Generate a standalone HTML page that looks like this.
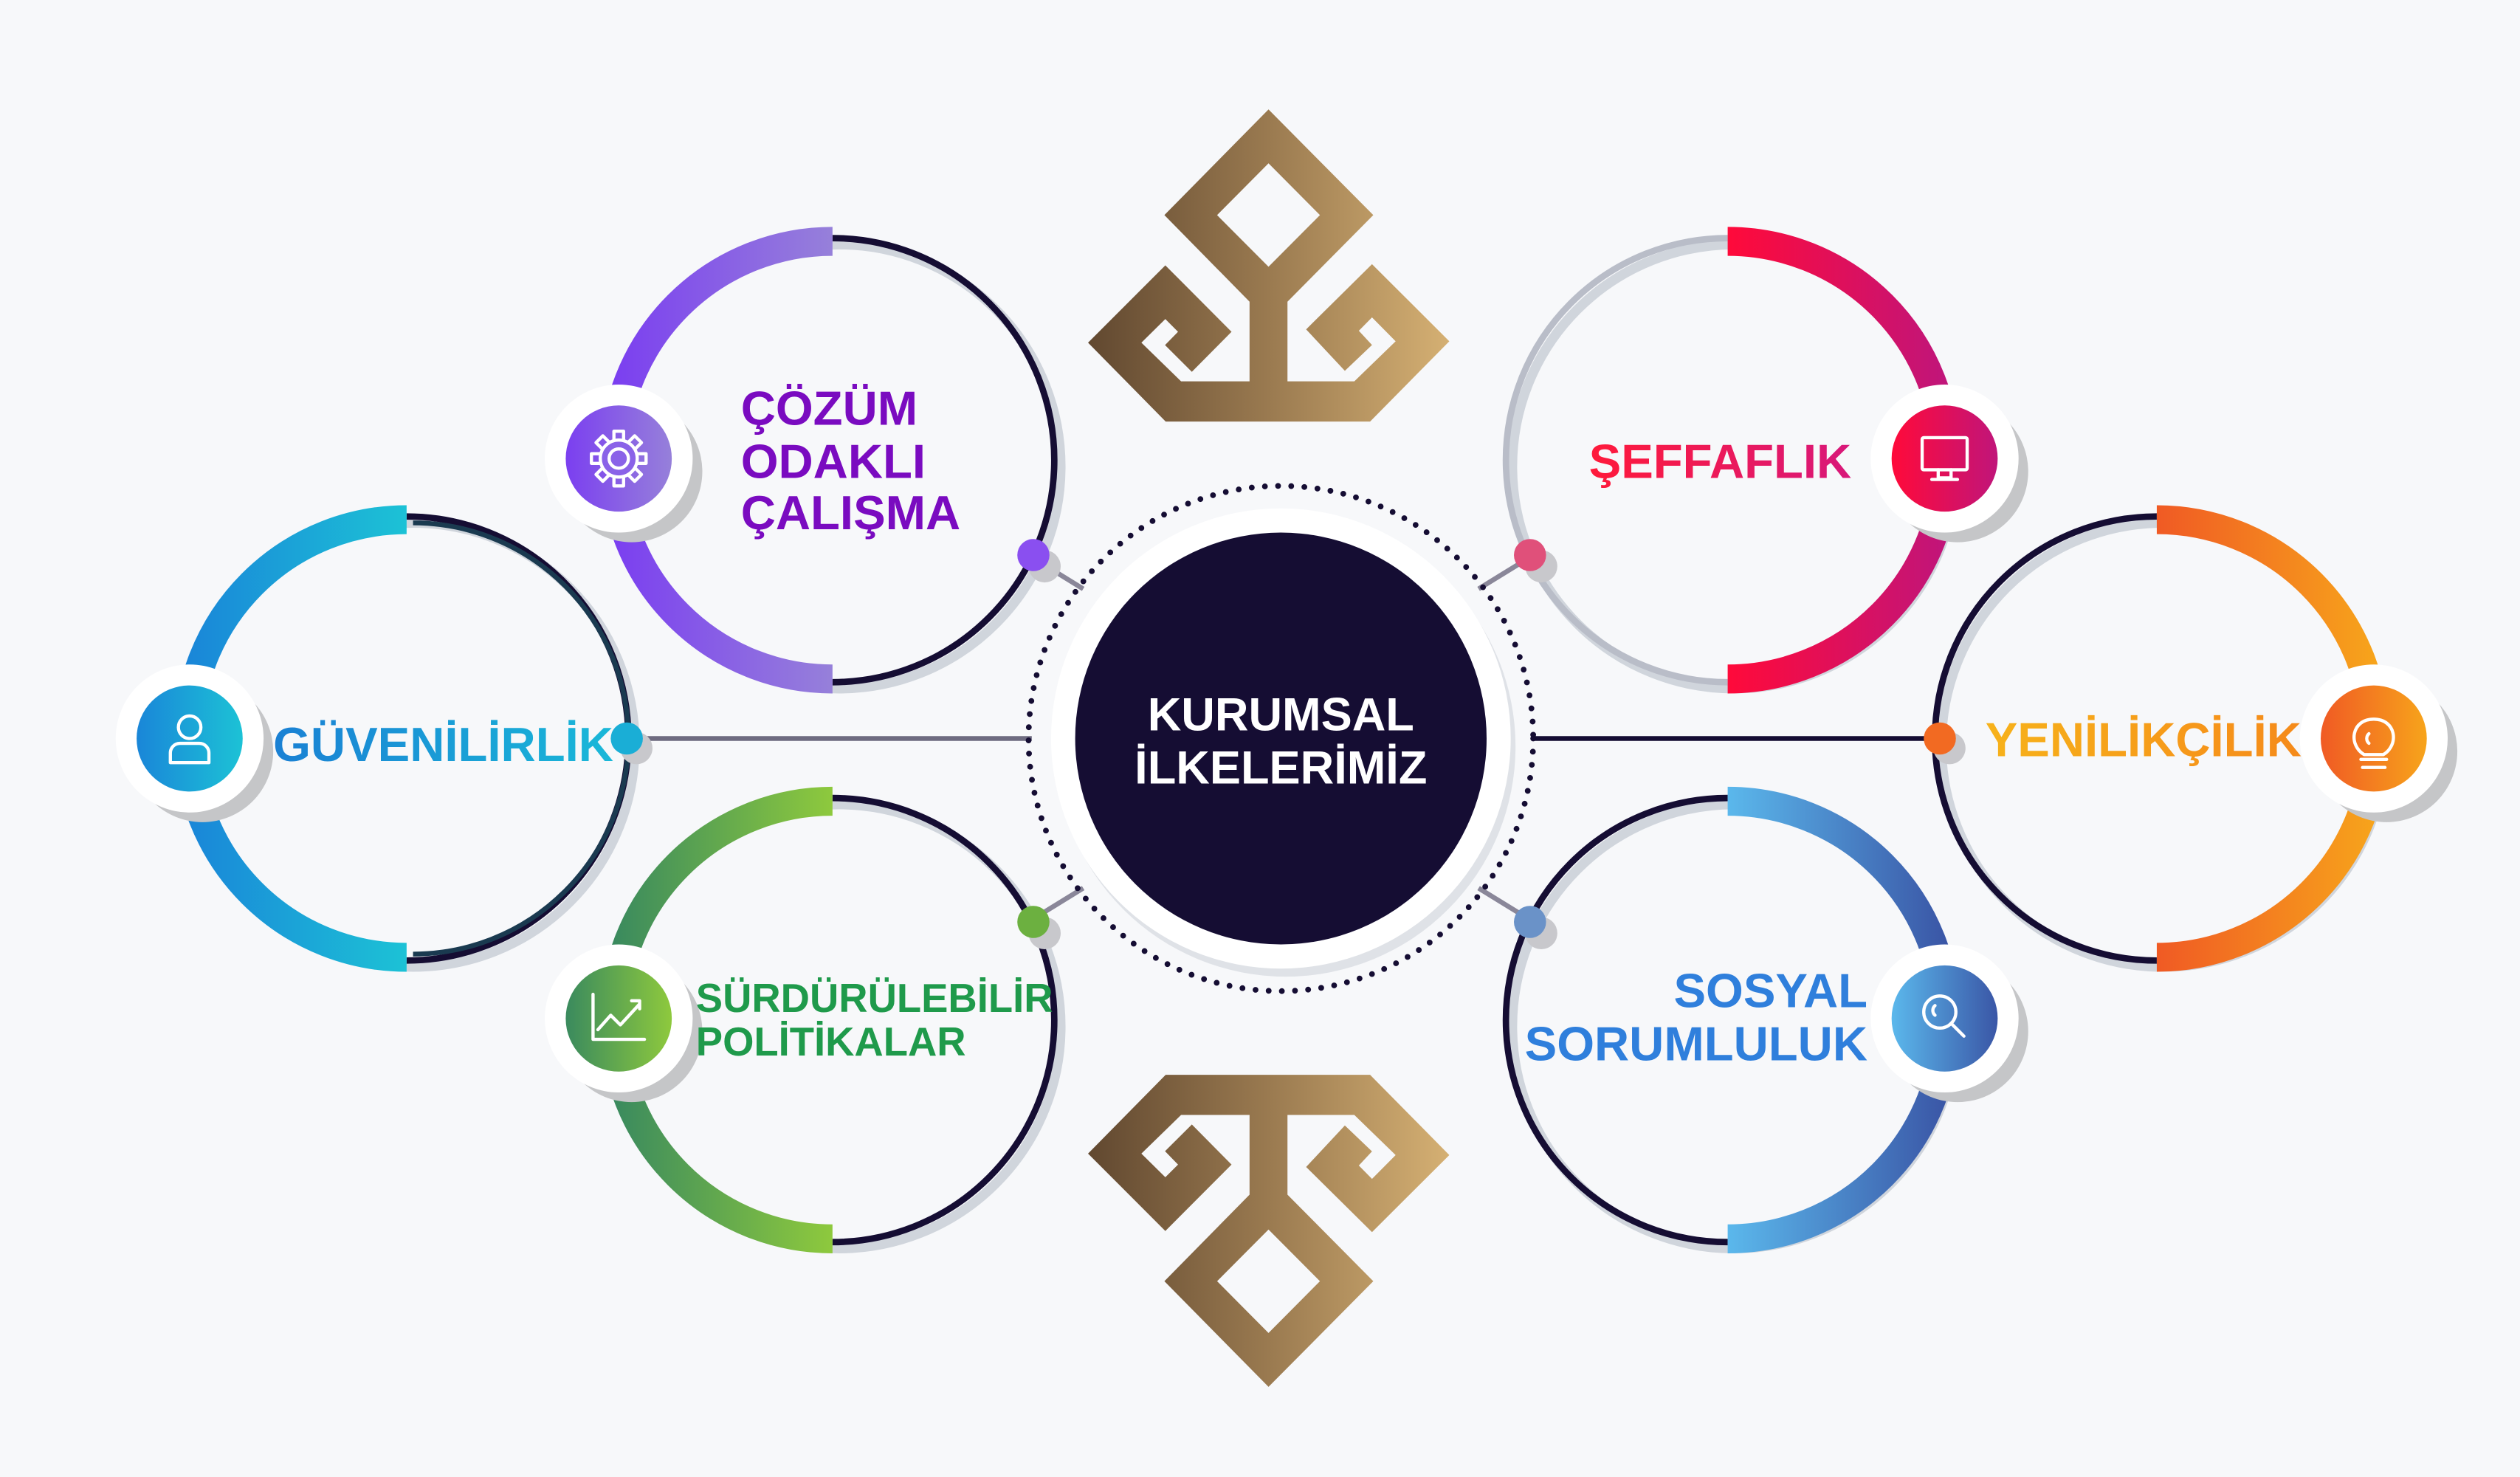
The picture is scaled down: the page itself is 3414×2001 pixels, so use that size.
<!DOCTYPE html>
<html><head><meta charset="utf-8"><style>
html,body{margin:0;padding:0;background:#f7f8fa;}
svg{display:block;}
text{font-family:"Liberation Sans",sans-serif;font-weight:bold;}
</style></head><body>
<svg width="3414" height="2001" viewBox="0 0 1568 918" preserveAspectRatio="none" xmlns="http://www.w3.org/2000/svg">
<defs>
<linearGradient id="gold" x1="0" x2="1" y1="0" y2="0"><stop offset="0" stop-color="#614830"/><stop offset="0.5" stop-color="#9a7a50"/><stop offset="1" stop-color="#d5b073"/></linearGradient>
<linearGradient id="gP" x1="0" x2="1"><stop offset="0" stop-color="#7b3ff0"/><stop offset="1" stop-color="#9680da"/></linearGradient>
<linearGradient id="gC" x1="0" x2="1"><stop offset="0" stop-color="#1a86d8"/><stop offset="1" stop-color="#1cc2d6"/></linearGradient>
<linearGradient id="gG" x1="0" x2="1"><stop offset="0" stop-color="#3a8a5e"/><stop offset="1" stop-color="#8ec93d"/></linearGradient>
<linearGradient id="gR" x1="0" x2="1"><stop offset="0" stop-color="#ff0a3a"/><stop offset="1" stop-color="#c0157a"/></linearGradient>
<linearGradient id="gO" x1="0" x2="1"><stop offset="0" stop-color="#f05a24"/><stop offset="1" stop-color="#f7a41b"/></linearGradient>
<linearGradient id="gB" x1="0" x2="1"><stop offset="0" stop-color="#5bb8ec"/><stop offset="1" stop-color="#3a56a6"/></linearGradient>
<linearGradient id="tC" x1="0" x2="1"><stop offset="0" stop-color="#1a80d4"/><stop offset="1" stop-color="#1ab8d8"/></linearGradient>
<linearGradient id="tR" x1="0" x2="1"><stop offset="0" stop-color="#ff1a3a"/><stop offset="1" stop-color="#d8187a"/></linearGradient>
<linearGradient id="tO" x1="0" x2="1"><stop offset="0" stop-color="#f7b21a"/><stop offset="1" stop-color="#f58a1a"/></linearGradient>
<path id="orn" fill-rule="evenodd" d="M789.3,68 L854.5,133.7 L801.1,187.5 L801.1,237 L842.7,237 L868.4,212.1 L853.7,197.3 L845.5,205.6 L853.7,214.4 L836.8,230.5 L812.7,204.7 L853.7,164.2 L901.8,212.1 L852.5,262 L725.3,262 L677,213 L725.1,164.9 L766.3,206.2 L741.6,231.1 L724.9,214.5 L733,206.2 L725.1,198.3 L710.2,213 L734.9,237 L777.5,237 L777.5,187.5 L724.5,133.7 Z M789.3,101.5 L821.3,133.7 L789.3,165.8 L757.3,133.7 Z"/>
</defs>
<rect width="1568" height="918" fill="#f7f8fa"/>

<use href="#orn" fill="url(#gold)"/>
<g transform="translate(0,930) scale(1,-1)"><use href="#orn" fill="url(#gold)"/></g>

<line x1="390" y1="459" x2="642" y2="459" stroke="#6e6b80" stroke-width="3"/>
<line x1="955" y1="459" x2="1207" y2="459" stroke="#150d33" stroke-width="3"/>
<line x1="648" y1="350" x2="674" y2="366" stroke="#8a8799" stroke-width="3"/>
<line x1="946" y1="350" x2="920" y2="366" stroke="#8a8799" stroke-width="3"/>
<line x1="648" y1="568" x2="674" y2="552" stroke="#8a8799" stroke-width="3"/>
<line x1="946" y1="568" x2="920" y2="552" stroke="#8a8799" stroke-width="3"/>

<g fill="none" stroke="#d0d5dc" stroke-width="6">
<circle cx="522" cy="290" r="138"/>
<circle cx="257" cy="463" r="138"/>
<circle cx="522" cy="638" r="138"/>
<circle cx="1079" cy="290" r="138"/>
<circle cx="1346" cy="463" r="138"/>
<circle cx="1079" cy="638" r="138"/>
</g>
<g fill="none" stroke="#150d33" stroke-width="4">
<path d="M518,148 A138,138 0 0 1 518,424"/>
<path d="M253,321 A138,138 0 0 1 253,597"/>
<path d="M518,496 A138,138 0 0 1 518,772"/>
<path d="M1342,321 A138,138 0 0 0 1342,597"/>
<path d="M1075,496 A138,138 0 0 0 1075,772"/>
</g>
<path d="M257,325 A134,134 0 0 1 257,593" fill="none" stroke="#1a3a50" stroke-width="3"/>
<path d="M1075,148 A138,138 0 0 0 1075,424" fill="none" stroke="#b9bdc8" stroke-width="4"/>
<g fill="none" stroke-width="18">
<path d="M518,150 A136,136 0 0 0 518,422" stroke="url(#gP)"/>
<path d="M253,323 A136,136 0 0 0 253,595" stroke="url(#gC)"/>
<path d="M518,498 A136,136 0 0 0 518,770" stroke="url(#gG)"/>
<path d="M1075,150 A136,136 0 0 1 1075,422" stroke="url(#gR)"/>
<path d="M1342,323 A136,136 0 0 1 1342,595" stroke="url(#gO)"/>
<path d="M1075,498 A136,136 0 0 1 1075,770" stroke="url(#gB)"/>
</g>

<circle cx="800" cy="464" r="143" fill="#dfe2e7"/>
<circle cx="797" cy="459" r="143" fill="#ffffff"/>
<circle cx="797" cy="459" r="128" fill="#150d33"/>
<circle cx="797" cy="459" r="157" fill="none" stroke="#150d33" stroke-width="3.6" stroke-linecap="round" stroke-dasharray="0 8.2"/>
<text x="797" y="454" font-size="29" fill="#fff" text-anchor="middle">KURUMSAL</text>
<text x="797" y="487" font-size="29" fill="#fff" text-anchor="middle">İLKELERİMİZ</text>

<circle cx="650" cy="352" r="10" fill="#c8c8cc"/><circle cx="643" cy="345" r="10" fill="#8a4ff0"/>
<circle cx="959" cy="352" r="10" fill="#c8c8cc"/><circle cx="952" cy="345" r="10" fill="#e0507a"/>
<circle cx="650" cy="580" r="10" fill="#c8c8cc"/><circle cx="643" cy="573" r="10" fill="#6cb040"/>
<circle cx="959" cy="580" r="10" fill="#c8c8cc"/><circle cx="952" cy="573" r="10" fill="#6a92c8"/>
<circle cx="396" cy="465" r="10" fill="#c8c8cc"/><circle cx="390" cy="459" r="10" fill="#1aaed6"/>
<circle cx="1213" cy="465" r="10" fill="#c8c8cc"/><circle cx="1207" cy="459" r="10" fill="#f26a22"/>

<g>
<circle cx="393" cy="293" r="44" fill="#c5c6c8"/><circle cx="385" cy="285" r="46" fill="#fff"/><circle cx="385" cy="285" r="33" fill="url(#gP)"/>
<circle cx="126" cy="467" r="44" fill="#c5c6c8"/><circle cx="118" cy="459" r="46" fill="#fff"/><circle cx="118" cy="459" r="33" fill="url(#gC)"/>
<circle cx="393" cy="641" r="44" fill="#c5c6c8"/><circle cx="385" cy="633" r="46" fill="#fff"/><circle cx="385" cy="633" r="33" fill="url(#gG)"/>
<circle cx="1218" cy="293" r="44" fill="#c5c6c8"/><circle cx="1210" cy="285" r="46" fill="#fff"/><circle cx="1210" cy="285" r="33" fill="url(#gR)"/>
<circle cx="1485" cy="467" r="44" fill="#c5c6c8"/><circle cx="1477" cy="459" r="46" fill="#fff"/><circle cx="1477" cy="459" r="33" fill="url(#gO)"/>
<circle cx="1218" cy="641" r="44" fill="#c5c6c8"/><circle cx="1210" cy="633" r="46" fill="#fff"/><circle cx="1210" cy="633" r="33" fill="url(#gB)"/>
</g>
<g fill="none" stroke="#fff" stroke-width="2" stroke-linejoin="round" stroke-linecap="round">
<g transform="translate(385,285)">
<rect x="-3" y="-17" width="6" height="6"/><rect x="-3" y="11" width="6" height="6"/>
<rect x="-17" y="-3" width="6" height="6"/><rect x="11" y="-3" width="6" height="6"/>
<g transform="rotate(45)"><rect x="-3" y="-17" width="6" height="6"/><rect x="-3" y="11" width="6" height="6"/><rect x="-17" y="-3" width="6" height="6"/><rect x="11" y="-3" width="6" height="6"/></g>
</g>
<circle cx="385" cy="285" r="11.5" fill="#8a62e8"/>
<circle cx="385" cy="285" r="6"/>
<circle cx="118" cy="452" r="7"/><path d="M106,474 v-6 a6,6 0 0 1 6,-6 h12 a6,6 0 0 1 6,6 v6 z"/>
<path d="M369,618 v28 h32 M372,640 l8,-9 6,6 12,-13 M393,622 h5 v5"/>
<rect x="1196" y="272" width="28" height="20" rx="1"/><path d="M1206,292 v5 h8 v-5 M1202,298 h16"/>
<path d="M1469,472 h16 M1470,477 h14 M1471,469 c-10,-6 -8,-22 6,-22 c14,0 16,16 6,22 z M1474,456 a4,4 0 0 0 0,6"/>
<circle cx="1207" cy="629" r="10"/><path d="M1214,636 l8,8 M1204,625 a4,4 0 0 0 0,6"/>
</g>

<g font-size="30">
<text x="461" y="264" fill="#7a0bc0">ÇÖZÜM</text>
<text x="461" y="297" fill="#7a0bc0">ODAKLI</text>
<text x="461" y="329" fill="#7a0bc0">ÇALIŞMA</text>
<text x="170" y="473" fill="url(#tC)">GÜVENİLİRLİK</text>
<text x="1152" y="297" fill="url(#tR)" text-anchor="end">ŞEFFAFLIK</text>
<text x="1432" y="470" fill="url(#tO)" text-anchor="end">YENİLİKÇİLİK</text>
<text x="1162" y="626" fill="#2f7fdc" text-anchor="end">SOSYAL</text>
<text x="1162" y="659" fill="#2f7fdc" text-anchor="end">SORUMLULUK</text>
</g>
<text x="433" y="629" font-size="25" fill="#1f9a4b">SÜRDÜRÜLEBİLİR</text>
<text x="433" y="656" font-size="25" fill="#1f9a4b">POLİTİKALAR</text>
</svg>
</body></html>
